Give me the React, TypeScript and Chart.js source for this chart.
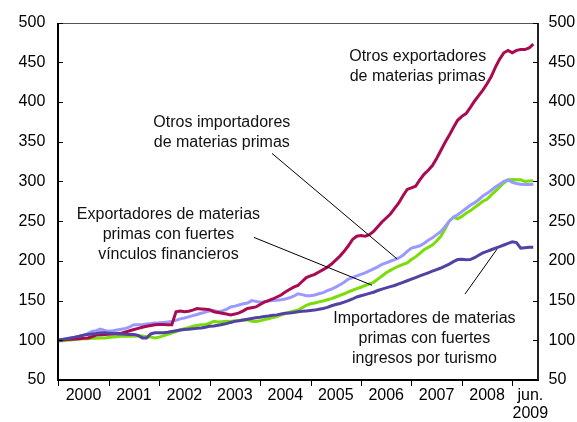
import { useEffect, useRef } from 'react';
import { Chart, registerables } from 'chart.js';

Chart.register(...registerables);

// Monthly index values, Jan 2000 (month 0) to Jun 2009 (month 113)
const otrosExportadores = [
  100, 100.5, 101, 101.3, 101.6, 102, 102.5, 103, 104.5, 106.5, 107, 107.3,
  107.6, 108, 108.5, 109, 110.5, 112, 113.6, 115, 116.5, 117.6, 118.5, 119.5,
  120, 119.8, 119.7, 119.7, 136, 137, 136, 136.5, 138, 140, 139.5, 139,
  138.5, 136, 135, 134, 133, 132, 133, 134.5, 137, 140, 141, 142,
  145, 148, 150, 152, 154.5, 157, 160.7, 164, 167, 169, 174, 179,
  181, 183, 186, 189, 192, 196, 201, 206, 212, 219, 227, 231,
  232, 231, 233, 237, 243, 249, 254, 259, 266, 273, 282, 290,
  292, 294, 302, 309, 314, 320, 329, 339, 349, 358, 368, 377,
  382, 385.5, 393, 401, 408, 415, 423, 432, 444, 454, 462, 465,
  462, 465, 466, 466, 468, 473,
];

const otrosImportadores = [
  100, 101, 102, 103, 104, 105, 106.5, 108.5, 111, 112, 114, 112.5,
  111.5, 112, 113, 114, 115, 117, 119.7, 119.5, 119.7, 120.5, 121, 121.7,
  122, 122.5, 123, 123.8, 125, 127, 128, 129.5, 131, 132.5, 134, 135.5,
  137, 137.5, 136, 137, 139, 142, 143, 144.5, 146, 147, 150, 149,
  148, 148.5, 149.5, 150, 150.5, 151, 152, 153.5, 155.5, 158.6, 157.5, 156,
  156, 157, 158.6, 160, 162.5, 164.5, 167, 170, 173, 177, 179, 181,
  183, 185, 187.5, 190, 192.5, 195.5, 197.5, 199.5, 201.5, 203.7, 207, 212,
  216, 217.5, 219, 222, 226, 229, 233, 237, 243, 250, 255, 258,
  262, 266, 270, 273, 277, 281.6, 285, 289, 293, 296.5, 300, 302,
  299, 297.5, 296.5, 296, 296, 296.6,
];

const exportadoresVinculos = [
  99, 99.5, 100, 100.5, 101, 101.5, 102, 102, 102.5, 102.5, 103, 103,
  103.5, 104, 104.5, 105.3, 105, 105.5, 105, 105.3, 105.3, 104.5, 104, 103,
  104, 105.5, 107.4, 109, 111, 113, 114.5, 116, 117.6, 118.5, 119.5, 120,
  121.5, 123.8, 123, 123.5, 124, 123.8, 124.5, 125, 125.5, 126, 124, 123.8,
  124.5, 126, 127, 128.5, 130, 132, 133.5, 135.5, 137, 138, 141, 144,
  146, 147, 148.4, 149.5, 151, 152.4, 154.5, 156.5, 158.6, 161, 163, 165,
  166.8, 169, 171, 173, 177, 181, 185, 188, 191, 193.5, 195.5, 197.5,
  201.6, 205, 209.5, 214, 217, 220, 225, 231, 240, 250, 255, 253,
  256, 260, 263, 267, 271, 275, 277.5, 283, 287.7, 293, 298, 302,
  302.5, 302, 302, 300, 300.5, 301,
];

const importadoresTurismo = [
  100, 101, 102, 103, 104, 105, 106.5, 107.4, 108, 108.5, 109.4, 109.5,
  109, 108.5, 108, 108, 107.5, 107.4, 107.4, 106, 103, 103, 108, 109.4,
  109.5, 109.4, 110, 111, 112, 113, 113.6, 114, 114.5, 115, 115.6, 116.5,
  117.6, 118, 119, 120, 121, 122.5, 123.8, 124.5, 125.5, 126.5, 127.5, 128.5,
  129, 130, 130.5, 131.5, 132, 133, 134, 134.5, 135, 136, 136.5, 137,
  137.5, 138, 139, 140, 141.5, 143.5, 145, 146.3, 148, 150, 152, 154.5,
  156, 157.5, 159, 160.5, 162.7, 164.5, 166, 167.5, 169, 171, 173, 175,
  177, 179, 181, 183, 185, 187, 189, 191, 193.5, 196, 199, 201.6,
  202, 201.5, 201.6, 204, 207, 210, 212, 214, 216, 218, 220, 222,
  224, 223, 216, 216.5, 217, 217,
];

// X axis: year boundaries (tick marks) and label positions (month index)
const yearBoundaries = [0, 12, 24, 36, 48, 60, 72, 84, 96, 108];
const xLabelPositions = [6, 18, 30, 42, 54, 66, 78, 90, 102, 112.3];
const xTickLabels: (string | string[])[] = [
  '2000', '2001', '2002', '2003', '2004', '2005', '2006', '2007', '2008', ['jun.', '2009'],
];
const yTickValues = [50, 100, 150, 200, 250, 300, 350, 400, 450, 500];

// Annotations (data coordinates: month index, value)
const annotationTexts = [
  { lines: ['Otros exportadores', 'de materias primas'], x: 85.5, y: 457.8 },
  { lines: ['Otros importadores', 'de materias primas'], x: 38.9, y: 374.6 },
  { lines: ['Exportadores de materias', 'primas con fuertes', 'vínculos financieros'], x: 26.2, y: 258.2 },
  { lines: ['Importadores de materias', 'primas con fuertes', 'ingresos por turismo'], x: 87.1, y: 127.1 },
];
const leaderLines = [
  { x1: 50.84, y1: 335.3, x2: 80.58, y2: 202.5 },
  { x1: 46.56, y1: 229.5, x2: 74.63, y2: 169.3 },
  { x1: 96.75, y1: 158.2, x2: 104.37, y2: 214.8 },
];

const FONT = '"Liberation Sans", Arial, sans-serif';

const toPoints = (arr: number[]) => arr.map((v, i) => ({ x: i, y: v }));

const framePlugin = {
  id: 'frame',
  afterDraw(chart: any) {
    const { ctx, chartArea, scales } = chart;
    const L = Math.round(chartArea.left);
    const R = Math.round(chartArea.right);
    const T = Math.round(chartArea.top);
    const B = Math.round(chartArea.bottom);
    ctx.save();
    // top border (thin grey)
    ctx.fillStyle = '#555';
    ctx.fillRect(L, T, R - L, 1);
    // left and bottom axes (black, 2px)
    ctx.fillStyle = '#000';
    ctx.fillRect(L - 1, T, 2, B - T + 1);
    ctx.fillRect(L - 1, B - 1, R - L + 2, 2);
    // right axis
    ctx.fillStyle = '#222';
    ctx.fillRect(R - 1, T, 2, B - T);
    // y tick marks (inward, both sides)
    ctx.fillStyle = '#000';
    for (const v of yTickValues) {
      const y = Math.round(scales.y.getPixelForValue(v));
      ctx.fillRect(L, y, 5, 1);
      ctx.fillRect(R - 5, y, 5, 1);
    }
    // x tick marks (outward) at year boundaries
    for (const b of yearBoundaries) {
      const x = Math.round(scales.x.getPixelForValue(b));
      ctx.fillRect(x, B, 1, 6);
    }
    ctx.restore();
  },
};

const annotationPlugin = {
  id: 'annotations',
  afterDatasetsDraw(chart: any) {
    const { ctx, scales } = chart;
    ctx.save();
    ctx.strokeStyle = '#000';
    ctx.lineWidth = 1;
    for (const l of leaderLines) {
      ctx.beginPath();
      ctx.moveTo(scales.x.getPixelForValue(l.x1), scales.y.getPixelForValue(l.y1));
      ctx.lineTo(scales.x.getPixelForValue(l.x2), scales.y.getPixelForValue(l.y2));
      ctx.stroke();
    }
    ctx.fillStyle = '#111';
    ctx.font = `16px ${FONT}`;
    ctx.textAlign = 'center';
    ctx.textBaseline = 'middle';
    for (const t of annotationTexts) {
      const x = scales.x.getPixelForValue(t.x);
      const y0 = scales.y.getPixelForValue(t.y);
      t.lines.forEach((line, i) => {
        ctx.fillText(line, x, y0 + i * 20);
      });
    }
    ctx.restore();
  },
};

export default function App() {
  const ref = useRef<HTMLCanvasElement>(null);

  useEffect(() => {
    Chart.defaults.font.family = FONT;
    const yCommon = {
      type: 'linear' as const,
      min: 50,
      max: 500,
      grid: { display: false, drawTicks: false },
      border: { display: false },
    };
    const chart = new Chart(ref.current!, {
      type: 'line',
      data: {
        datasets: [
          { label: 'Importadores de materias primas con fuertes ingresos por turismo', data: toPoints(importadoresTurismo), borderColor: '#5242A3' },
          { label: 'Otros exportadores de materias primas', data: toPoints(otrosExportadores), borderColor: '#AA0A50' },
          { label: 'Otros importadores de materias primas', data: toPoints(otrosImportadores), borderColor: '#9999FF' },
          { label: 'Exportadores de materias primas con fuertes vínculos financieros', data: toPoints(exportadoresVinculos), borderColor: '#7ADD0A' },
        ].map((d) => ({ ...d, borderWidth: 3, pointRadius: 0, tension: 0, fill: false, yAxisID: 'y' })),
      },
      options: {
        responsive: false,
        animation: false,
        devicePixelRatio: 1,
        layout: { padding: { left: 0, right: 0, top: 5.4, bottom: 0 } },
        plugins: { legend: { display: false }, tooltip: { enabled: false } },
        scales: {
          x: {
            type: 'linear',
            min: 0,
            max: 114,
            afterBuildTicks: (s: any) => {
              s.ticks = xLabelPositions.map((v) => ({ value: v }));
            },
            afterFit: (s: any) => { s.height = 42; },
            grid: { display: false, drawTicks: false },
            border: { display: false },
            ticks: {
              autoSkip: false,
              maxRotation: 0,
              minRotation: 0,
              padding: 7,
              color: '#000',
              font: { size: 16, lineHeight: 1.1 },
              callback: (_v: any, i: number) => xTickLabels[i],
            },
          },
          y: {
            ...yCommon,
            position: 'left',
            afterFit: (s: any) => { s.width = 58.3; },
            ticks: { stepSize: 50, padding: 13, color: '#000', font: { size: 16 } },
          },
          y2: {
            ...yCommon,
            position: 'right',
            afterFit: (s: any) => { s.width = 39.5; },
            ticks: { stepSize: 50, padding: 11, color: '#000', font: { size: 16 } },
          },
        },
      },
      plugins: [annotationPlugin, framePlugin],
    } as any);
    return () => chart.destroy();
  }, []);

  return (
    <div style={{ position: 'absolute', left: 0, top: 0, width: 577, height: 422 }}>
      <canvas ref={ref} width={577} height={422} style={{ display: 'block', width: 577, height: 422 }} />
    </div>
  );
}
